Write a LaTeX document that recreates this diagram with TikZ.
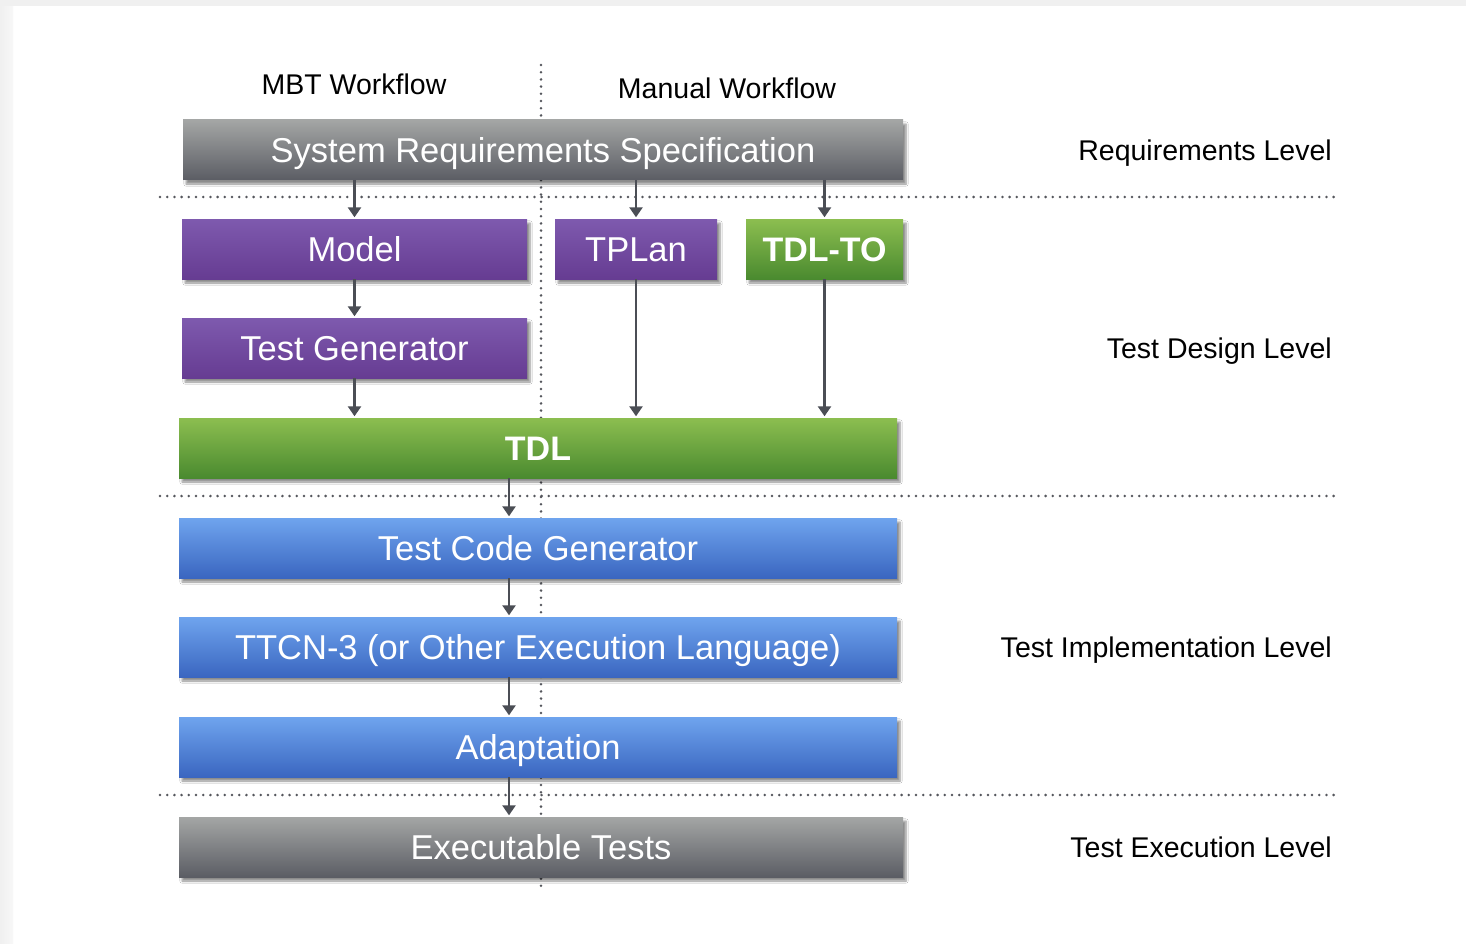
\documentclass[tikz,border=0pt]{standalone}
\usepackage{fontspec}
\setmainfont{Liberation Sans}
\usetikzlibrary{arrows.meta,shadows.blur}
\definecolor{grayT}{HTML}{A4A6A5}
\definecolor{grayB}{HTML}{5B5D64}
\definecolor{purT}{HTML}{7E5AAE}
\definecolor{purB}{HTML}{663C92}
\definecolor{grnT}{HTML}{8CBE50}
\definecolor{grnB}{HTML}{4A8A2F}
\definecolor{bluT}{HTML}{6FA4EE}
\definecolor{bluB}{HTML}{3A66C0}
\definecolor{arrowc}{HTML}{4B4E55}
\definecolor{dotc}{HTML}{55575D}
\tikzset{
  box/.style={minimum height=60pt, inner sep=0pt, text=white,
    text height=24.5pt, text depth=0pt,
    font=\fontsize{34.5}{38}\selectfont,
    blur shadow={shadow xshift=3pt, shadow yshift=-4pt, shadow blur steps=6, shadow opacity=45}},
  graybox/.style={box, top color=grayT, bottom color=grayB},
  purbox/.style={box, top color=purT, bottom color=purB},
  grnbox/.style={box, top color=grnT, bottom color=grnB, font=\fontsize{34}{38}\selectfont\bfseries},
  blubox/.style={box, top color=bluT, bottom color=bluB},
  arr/.style={draw=arrowc, line width=2.4pt, -{Triangle[width=13pt,length=10pt]}, shorten >=1.5pt},
  dotline/.style={draw=dotc, line width=2.8pt, line cap=round, dash pattern=on 0pt off 7.2pt},
  lbl/.style={text=black, inner sep=0pt, text height=20.5pt, text depth=0pt, font=\fontsize{28.5}{32}\selectfont},
  rlbl/.style={lbl, anchor=east}
}
\begin{document}
\begin{tikzpicture}[x=1pt,y=-1pt]
\useasboundingbox (0,0) rectangle (1466,944);
\fill[white] (0,0) rectangle (1466,944);
\fill[left color=black!6, right color=black!3] (0,0) rectangle (13,944);
\fill[black!6] (0,0) rectangle (1466,6);
% dotted separators
\coordinate (vt) at (541,65);
\coordinate (vb) at (541,892);
\draw[dotline] (vt) -- (vb);
\coordinate (h1l) at (160,197); \coordinate (h1r) at (1335,197);
\coordinate (h2l) at (160,496); \coordinate (h2r) at (1335,496);
\coordinate (h3l) at (160,795); \coordinate (h3r) at (1335,795);
\draw[dotline] (h1l) -- (h1r);
\draw[dotline] (h2l) -- (h2r);
\draw[dotline] (h3l) -- (h3r);
% labels
\node[lbl] (mbt) at (354,84) {MBT Workflow};
\node[lbl] (man) at (727,88) {Manual Workflow};
\node[rlbl] (rl) at (1332,150) {Requirements Level};
\node[rlbl] (dl) at (1332,348) {Test Design Level};
\node[rlbl] (il) at (1332,647) {Test Implementation Level};
\node[rlbl] (el) at (1332,847) {Test Execution Level};
% boxes
\node[graybox, minimum width=720pt] (srs) at (543,150) {System Requirements Specification};
\node[purbox, minimum width=345pt] (model) at (354.5,249) {Model};
\node[purbox, minimum width=162pt] (tplan) at (636,249) {TPLan};
\node[grnbox, minimum width=157pt] (tdlto) at (824.5,249) {TDL-TO};
\node[purbox, minimum width=345pt] (tgen) at (354.5,348) {Test Generator};
\node[grnbox, minimum width=718pt] (tdl) at (538,448) {TDL};
\node[blubox, minimum width=718pt] (tcg) at (538,548) {Test Code Generator};
\node[blubox, minimum width=718pt] (ttcn) at (538,647) {TTCN-3 (or Other Execution Language)};
\node[blubox, minimum width=718pt] (adapt) at (538,747) {Adaptation};
\node[graybox, minimum width=724pt] (exec) at (541,847) {Executable Tests};
% arrows
\coordinate (ax) at (509,0);
\draw[arr] (srs.south -| model.north) -- (model.north);
\draw[arr] (srs.south -| tplan.north) -- (tplan.north);
\draw[arr] (srs.south -| tdlto.north) -- (tdlto.north);
\draw[arr] (model.south) -- (tgen.north);
\draw[arr] (tgen.south) -- (tgen.south |- tdl.north);
\draw[arr] (tplan.south) -- (tplan.south |- tdl.north);
\draw[arr] (tdlto.south) -- (tdlto.south |- tdl.north);
\draw[arr] (tdl.south -| ax) -- (tcg.north -| ax);
\draw[arr] (tcg.south -| ax) -- (ttcn.north -| ax);
\draw[arr] (ttcn.south -| ax) -- (adapt.north -| ax);
\draw[arr] (adapt.south -| ax) -- (exec.north -| ax);
\end{tikzpicture}
\end{document}
